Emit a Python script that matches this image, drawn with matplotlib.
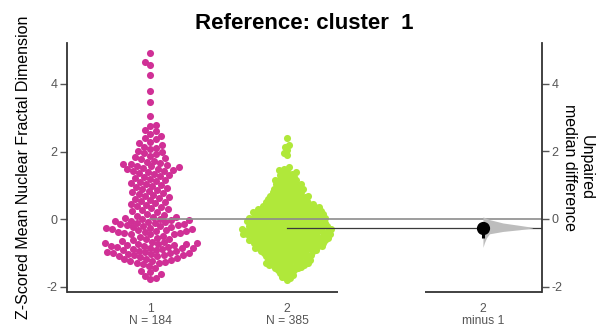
import numpy as np
import matplotlib

matplotlib.use("Agg")
import matplotlib.pyplot as plt

matplotlib.rcParams.update({
    "font.family": "sans-serif",
    "font.sans-serif": ["Liberation Sans", "Arial", "DejaVu Sans"],
    "axes.unicode_minus": False,
})

# cluster 1 (reference), z-scored mean nuclear fractal dimension per nucleus
GROUP1 = [
    4.91, 4.66, 4.56, 4.27, 3.80, 3.48, 3.05,
    2.79, 2.76, 2.64, 2.60, 2.53, 2.47, 2.40, 2.36, 2.29, 2.24, 2.19, 2.15,
    2.11,
    2.07, 2.03, 1.99, 1.96, 1.92, 1.88, 1.84, 1.80, 1.77, 1.73, 1.70, 1.67,
    1.64, 1.62, 1.60, 1.58, 1.56, 1.54, 1.52, 1.50, 1.48, 1.46, 1.44, 1.42,
    1.40, 1.37, 1.34, 1.31,
    1.28, 1.25, 1.22, 1.19, 1.16, 1.13, 1.10, 1.07, 1.04, 1.01,
    0.98, 0.95, 0.92, 0.89, 0.86, 0.83, 0.80, 0.77, 0.74, 0.71,
    0.68, 0.65, 0.62, 0.59, 0.56, 0.53, 0.50, 0.47, 0.44, 0.41,
    0.38, 0.35, 0.32, 0.29, 0.26, 0.23, 0.20, 0.17, 0.14, 0.11,
    0.08, 0.06, 0.04, 0.02,
    0.00, -0.01, -0.03, -0.04, -0.06, -0.07, -0.09, -0.10, -0.12, -0.13,
    -0.15, -0.16, -0.18, -0.19, -0.21, -0.22, -0.24, -0.25, -0.27, -0.28,
    -0.30, -0.31, -0.33, -0.34, -0.36, -0.37, -0.39, -0.40, -0.42, -0.43,
    -0.44, -0.45,
    -0.48, -0.51, -0.54, -0.57, -0.59, -0.62,
    -0.64, -0.66, -0.67, -0.69, -0.70, -0.72, -0.73, -0.74, -0.75, -0.76,
    -0.78, -0.79, -0.81, -0.82, -0.84, -0.85, -0.86, -0.87, -0.88, -0.90,
    -0.91, -0.93, -0.94, -0.96, -0.97, -0.99, -1.00, -1.01, -1.02, -1.03,
    -1.05, -1.06, -1.07, -1.09, -1.10, -1.12, -1.14, -1.16, -1.18, -1.20,
    -1.22, -1.24, -1.26, -1.28, -1.30, -1.32,
    -1.38, -1.45, -1.52, -1.57, -1.62, -1.68, -1.73, -1.78,
]

# cluster 2: values binned at 0.05 with the number of nuclei in each bin
GROUP2_LEVELS = [
    2.40, 2.20, 2.15, 2.05, 1.95, 1.90,
    1.55, 1.50, 1.45, 1.40, 1.35, 1.30, 1.25, 1.20, 1.15, 1.10, 1.05, 1.00,
    0.95, 0.90, 0.85, 0.80, 0.75, 0.70, 0.65, 0.60, 0.55, 0.50,
    0.45, 0.40, 0.35, 0.30, 0.25, 0.20, 0.15, 0.10, 0.05, 0.00,
    -0.05, -0.10, -0.15, -0.20,
    -0.25, -0.30, -0.35, -0.40, -0.45, -0.50, -0.55, -0.60, -0.65, -0.70,
    -0.75, -0.80, -0.85, -0.90, -0.95, -1.00, -1.05, -1.10, -1.15, -1.20,
    -1.25, -1.30, -1.35, -1.40, -1.45, -1.50, -1.55, -1.60, -1.65, -1.70,
    -1.75, -1.80,
]
GROUP2_COUNTS = [
    1, 1, 1, 1, 1, 1,
    1, 1, 2, 2, 2, 2, 2, 2, 3, 3, 3, 3,
    3, 4, 4, 4, 4, 5, 5, 5, 5, 6,
    6, 7, 7, 8, 8, 8, 9, 9, 9, 9,
    9, 9, 9, 8,
    10, 10, 10, 10, 10, 10, 9, 9, 9, 8,
    8, 8, 7, 7, 6, 6, 6, 5, 5, 5,
    5, 5, 5, 4, 3, 3, 2, 2, 2, 2,
    1, 1,
]

GROUP_NAMES = ["1", "2"]
GROUP_COLORS = ["#D03096", "#B0E83A"]

# bootstrap distribution of the median difference (value, relative density)
BOOT_VALUES = [0.06, -0.02, -0.12, -0.19, -0.25, -0.27, -0.32, -0.37,
               -0.44, -0.56, -0.70, -0.84]
BOOT_DENSITY = [0.00, 0.13, 0.40, 0.73, 1.00, 0.98, 0.73, 0.40,
                0.13, 0.07, 0.03, 0.00]
CI = [-0.56, -0.14]

W, H = 597, 328
AX_LEFT, AX_RIGHT, AX_TOP, AX_BOTTOM = 67, 542, 43, 292
XLIM = (0.394, 3.861)
YLIM = (-2.15, 5.21)
X_EFFECT = 3.43
PX_PER_X = (AX_RIGHT - AX_LEFT) / (XLIM[1] - XLIM[0])
PX_PER_Y = (AX_BOTTOM - AX_TOP) / (YLIM[1] - YLIM[0])


def swarm_offsets(vals, d_px):
    """Beeswarm x offsets (pixels); d_px is the allowed centre spacing."""
    ys = np.asarray(vals, float) * PX_PER_Y
    xs = np.zeros(len(ys))
    px, py = [], []
    flip = False
    for i in np.argsort(ys, kind="stable"):
        y = ys[i]
        x = 0.0
        if px:
            ax_, ay_ = np.array(px), np.array(py)
            dy = np.abs(ay_ - y)
            near = dy < d_px
            if near.any():
                half = np.sqrt(d_px ** 2 - dy[near] ** 2)
                lo, hi = ax_[near] - half, ax_[near] + half
                cands = np.concatenate([[0.0], lo, hi])
                ok = np.ones(len(cands), bool)
                for a, b in zip(lo, hi):
                    ok &= ~((cands > a + 1e-6) & (cands < b - 1e-6))
                cands = cands[ok]
                key = np.abs(cands) + 1e-4 * ((cands < 0) if flip else (cands > 0))
                x = cands[np.argmin(key)]
        flip = not flip
        xs[i] = x
        px.append(x)
        py.append(y)
    return xs


g1 = np.array(GROUP1)
g2 = np.repeat(GROUP2_LEVELS, GROUP2_COUNTS)
med1, med2 = np.median(g1), np.median(g2)

fig = plt.figure(figsize=(W / 100, H / 100), dpi=100)
ax = fig.add_axes([AX_LEFT / W, 1 - AX_BOTTOM / H,
                   (AX_RIGHT - AX_LEFT) / W, (AX_BOTTOM - AX_TOP) / H])
ax.set_xlim(*XLIM)
ax.set_ylim(*YLIM)

for pos, vals, color, d in [(1, g1, GROUP_COLORS[0], 6.4),
                            (2, g2, GROUP_COLORS[1], 3.8)]:
    off = swarm_offsets(vals, d) / PX_PER_X
    ax.scatter(pos + off, vals, s=26, color=color, linewidths=0, zorder=2)

# reference lines: control median and test median carried to the effect axis
ax.plot([1, XLIM[1]], [med1, med1], color="#8c8c8c", lw=1.2, zorder=3)
ax.plot([2, XLIM[1]], [med2, med2], color="#3a3a3a", lw=0.9, zorder=3)

# effect size: half violin of the bootstrap distribution, median diff and CI
ax2 = ax.twinx()
ax2.set_ylim(YLIM[0] - med1, YLIM[1] - med1)
bv = np.array(BOOT_VALUES)
bd = np.array(BOOT_DENSITY) * 50 / PX_PER_X
ax2.fill_betweenx(bv, X_EFFECT, X_EFFECT + bd, color="#bdbdbd", lw=0, zorder=2)
effect = med2 - med1
ax2.plot([X_EFFECT, X_EFFECT], CI, color="black", lw=2.2, zorder=4,
         solid_capstyle="butt")
ax2.plot([X_EFFECT], [effect], "o", color="black", ms=8.5, zorder=5)

# axes styling
spine_c = "#333333"
tick_c = "#555555"
for a in (ax, ax2):
    for s in ("top", "bottom"):
        a.spines[s].set_visible(False)
ax.spines["right"].set_visible(False)
ax2.spines["left"].set_visible(False)
ax.spines["left"].set_color(spine_c)
ax2.spines["right"].set_color(spine_c)
ax.spines["left"].set_linewidth(1.3)
ax2.spines["right"].set_linewidth(1.3)

xtr = ax.get_xaxis_transform()
ax.plot([XLIM[0], 2.372], [0, 0], transform=xtr, color=spine_c, lw=1.3,
        clip_on=False, solid_capstyle="butt")
ax.plot([3.007, XLIM[1]], [0, 0], transform=xtr, color=spine_c, lw=1.3,
        clip_on=False, solid_capstyle="butt")

ax.set_yticks([-2, 0, 2, 4])
ax2.set_yticks([-2, 0, 2, 4])
for a in (ax, ax2):
    a.tick_params(axis="y", length=5, width=1, color=tick_c, labelcolor=tick_c,
                  labelsize=9, pad=2)
ax.set_xticks([1, 2, X_EFFECT])
ax.set_xticklabels([f"{GROUP_NAMES[0]}\nN = {len(g1)}",
                    f"{GROUP_NAMES[1]}\nN = {len(g2)}",
                    f"{GROUP_NAMES[1]}\nminus {GROUP_NAMES[0]}"],
                   linespacing=1.0)
ax.tick_params(axis="x", length=0, labelcolor=tick_c, labelsize=8.7, pad=8)

ax.set_ylabel("Z-Scored Mean Nuclear Fractal Dimension", fontsize=11.5,
              labelpad=11)
ax2.set_ylabel("Unpaired\nmedian difference", fontsize=11.5, rotation=270,
               ha="center", va="center", linespacing=1.1)
ax2.yaxis.set_label_coords((578 - AX_LEFT) / (AX_RIGHT - AX_LEFT), 0.5)
ax.set_title("Reference: cluster  1", fontsize=16, fontweight="bold", pad=10)

fig.savefig("out.png", dpi=100)
